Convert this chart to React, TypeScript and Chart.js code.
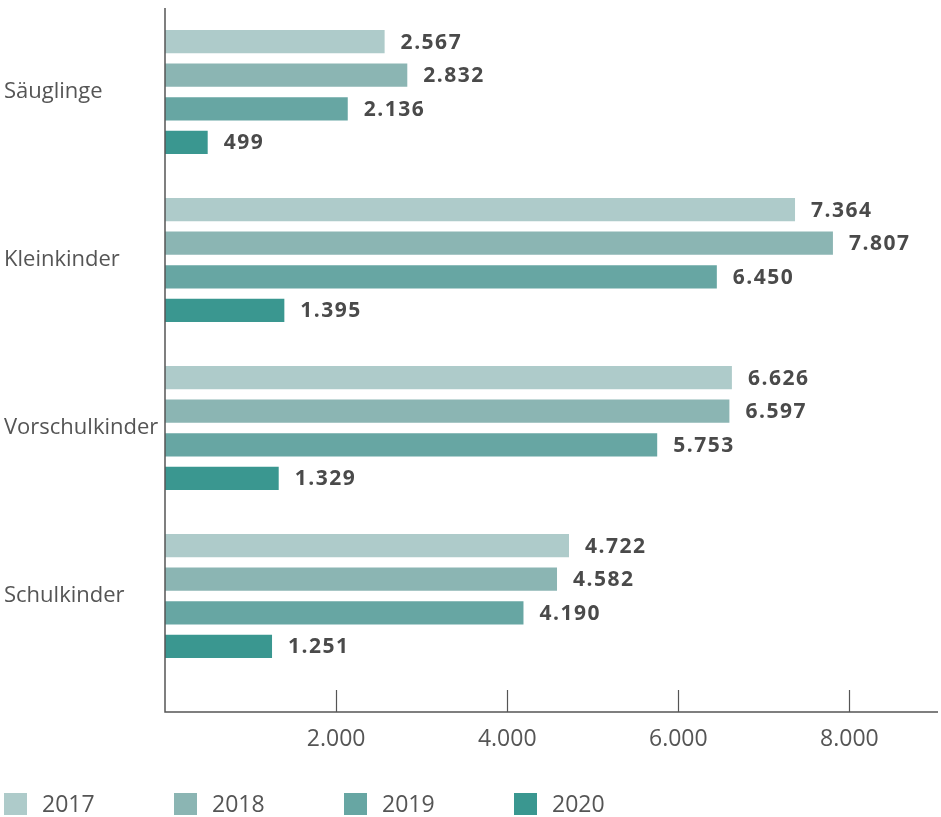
import React, { useEffect, useRef } from "react";
import { Chart, registerables } from "chart.js";

Chart.register(...registerables);

const CATEGORIES = ["Säuglinge", "Kleinkinder", "Vorschulkinder", "Schulkinder"];
const YEARS = ["2017", "2018", "2019", "2020"];
const V2017 = [2567, 7364, 6626, 4722];
const V2018 = [2832, 7807, 6597, 4582];
const V2019 = [2136, 6450, 5753, 4190];
const V2020 = [499, 1395, 1329, 1251];
const SERIES = [V2017, V2018, V2019, V2020];
const COLORS = ["#aecbca", "#8bb5b3", "#67a6a3", "#3a9790"];
const X_MAX = 9000;
const X_TICKS = [2000, 4000, 6000, 8000];

const fmt = (v: number) => String(v).replace(/\B(?=(\d{3})+(?!\d))/g, ".");

const TEXT = "#555555";
const LABEL = "#4a4a4a";
const AXIS = "#555555";
const FONT = "'Open Sans', sans-serif";
const AXIS_GAP = 32;

const axisLines = {
  id: "axisLines",
  afterDatasetsDraw(chart: any) {
    const ctx = chart.ctx;
    const { left, right, top, bottom } = chart.chartArea;
    const yAxis = bottom + AXIS_GAP;
    ctx.save();
    ctx.strokeStyle = AXIS;
    ctx.lineWidth = 1.5;
    ctx.beginPath();
    ctx.moveTo(left, top);
    ctx.lineTo(left, yAxis);
    ctx.lineTo(right + 3, yAxis);
    ctx.stroke();
    ctx.lineWidth = 1.2;
    const xs = chart.scales.x;
    xs.ticks.forEach((t: any) => {
      const px = Math.round(xs.getPixelForValue(t.value)) + 0.5;
      ctx.beginPath();
      ctx.moveTo(px, yAxis - 22);
      ctx.lineTo(px, yAxis);
      ctx.stroke();
    });
    ctx.restore();
  },
};

const valueLabels = {
  id: "valueLabels",
  afterDatasetsDraw(chart: any) {
    const ctx = chart.ctx;
    ctx.save();
    ctx.font = `bold 21px ${FONT}`;
    (ctx as any).letterSpacing = "1.5px";
    ctx.fillStyle = LABEL;
    ctx.textAlign = "left";
    ctx.textBaseline = "middle";
    chart.data.datasets.forEach((ds: any, i: number) => {
      const meta = chart.getDatasetMeta(i);
      meta.data.forEach((bar: any, j: number) => {
        ctx.fillText(fmt(ds.data[j]), bar.x + 16, bar.y + 1);
      });
    });
    ctx.restore();
  },
};

const bottomLegend = {
  id: "bottomLegend",
  afterDraw(chart: any) {
    const ctx = chart.ctx;
    ctx.save();
    ctx.font = `23px ${FONT}`;
    ctx.textBaseline = "middle";
    ctx.textAlign = "left";
    chart.data.datasets.forEach((ds: any, i: number) => {
      const x = 4 + i * 170;
      const y = 793;
      ctx.fillStyle = ds.backgroundColor;
      ctx.fillRect(x, y, 23, 22);
      ctx.fillStyle = TEXT;
      ctx.fillText(ds.label, x + 38, y + 12);
    });
    ctx.restore();
  },
};

export default function App() {
  const ref = useRef<HTMLCanvasElement | null>(null);
  useEffect(() => {
    document.body.style.margin = "0";
    const canvas = ref.current!;
    const chart = new Chart(canvas, {
      type: "bar",
      data: {
        labels: CATEGORIES,
        datasets: YEARS.map((y, i) => ({
          label: y,
          data: SERIES[i],
          backgroundColor: COLORS[i],
          borderWidth: 0,
          categoryPercentage: 0.8,
          barPercentage: 0.69,
        })),
      },
      options: {
        indexAxis: "y",
        responsive: false,
        animation: false,
        layout: { padding: { left: 4, top: 8, right: 6, bottom: 0 } },
        plugins: { legend: { display: false }, tooltip: { enabled: false } },
        scales: {
          y: {
            type: "category",
            afterFit: (s: any) => {
              s.width = 161;
              s.paddingTop = 0;
              s.paddingBottom = 0;
            },
            grid: { display: false, drawTicks: false },
            border: { display: false },
            ticks: {
              autoSkip: false,
              crossAlign: "far",
              color: TEXT,
              font: { family: FONT, size: 22 },
            },
          },
          x: {
            type: "linear",
            min: 0,
            max: X_MAX,
            afterBuildTicks: (s: any) => {
              s.ticks = X_TICKS.map((v) => ({ value: v }));
            },
            afterFit: (s: any) => {
              s.height = 137;
              s.paddingLeft = 0;
              s.paddingRight = 0;
            },
            grid: { display: false, drawTicks: false },
            border: { display: false },
            ticks: {
              autoSkip: false,
              maxRotation: 0,
              padding: 46,
              color: TEXT,
              font: { family: FONT, size: 23 },
              callback: (v: any) => fmt(v),
            },
          },
        },
      },
      plugins: [axisLines, valueLabels, bottomLegend],
    });
    return () => chart.destroy();
  }, []);
  return <canvas ref={ref} width={941} height={817} style={{ display: "block" }} />;
}
